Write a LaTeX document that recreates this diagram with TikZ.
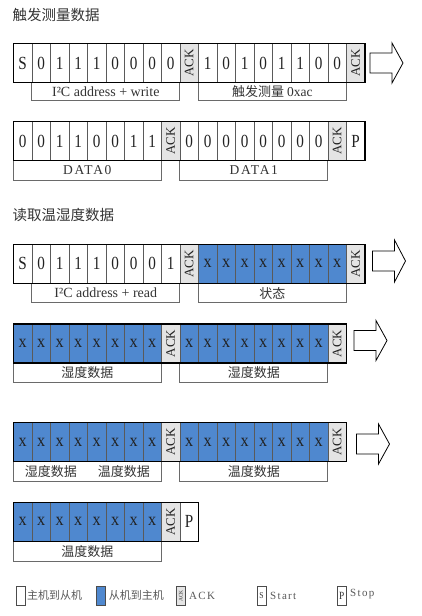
\documentclass[tikz,border=0pt]{standalone}
\usepackage{fontspec}
\usepackage{graphicx}
\setmainfont{Liberation Serif}
\newfontfamily\cjk{Noto Sans CJK SC}
\newfontfamily\spc[LetterSpace=12]{Liberation Serif}
\definecolor{bblue}{HTML}{4F88CF}
\definecolor{ackgray}{HTML}{E4E4E4}
\definecolor{sepgray}{HTML}{5A5A5A}
\definecolor{labgray}{HTML}{6A6A6A}
\definecolor{txt}{HTML}{222222}
\newcommand\fmtw[1]{\scalebox{0.82}[1]{#1}}
\newcommand\fmtb[1]{\scalebox{0.9}[1]{#1}}
\newcommand\fmta[1]{\rotatebox{90}{ACK}}
\tikzset{
  cell/.style={draw=sepgray, line width=0.6pt, minimum width=18.5pt, minimum height=39pt,
    inner sep=0pt, outer sep=0pt, anchor=north west, text=txt},
  cw/.style={cell, fill=white, font=\fontsize{18.5}{18.5}\selectfont},
  cb/.style={cell, fill=bblue, font=\fontsize{18}{18}\selectfont},
  ca/.style={cell, fill=ackgray, font=\fontsize{13}{13}\selectfont},
  frame/.style={draw=black, line width=1.5pt},
  labbox/.style={draw=labgray, line width=0.8pt, minimum width=148pt, inner sep=0pt,
    outer sep=0pt, anchor=north west, text=black!80, font=\fontsize{14}{14}\selectfont},
  cjklab/.style={font=\cjk\fontsize{13}{13}\selectfont},
  bigarrow/.style={draw=black, line width=0.8pt, fill=white, line join=miter},
  title/.style={anchor=west, inner sep=0pt, text=black!80, font=\cjk\fontsize{14.5}{14.5}\selectfont},
  legbox/.style={draw=black!70, line width=0.8pt, minimum width=9pt, minimum height=19pt,
    inner sep=0pt, anchor=north west, text=black!80},
  legtxt/.style={anchor=west, inner sep=0pt, text=black!65, font=\cjk\fontsize{11}{11}\selectfont},
  legen/.style={anchor=west, inner sep=0pt, text=black!65, font=\spc\fontsize{11}{11}\selectfont},
}
\begin{document}
\begin{tikzpicture}[x=1pt,y=-1pt]
\useasboundingbox[fill=white] (0,0) rectangle (422,616);

% ---------- titles
\node[title] (t1) at (12.5,15) {触发测量数据};
\node[title] (t2) at (12.5,215) {读取温湿度数据};

% ---------- row 1
\foreach \t/\v [count=\i from 0] in {w/S,w/0,w/1,w/1,w/1,w/0,w/0,w/0,w/0,a/A,w/1,w/0,w/1,w/0,w/1,w/1,w/0,w/0,a/A}
  \node[c\t] (r1c\i) at ({13.3+18.5*\i},43.5) {\csname fmt\t\endcsname{\v}};
\node[labbox, minimum height=17.5pt] (r1la) at (r1c1.south west) {I²C address + write};
\node[labbox, minimum height=17.5pt, cjklab] (r1lb) at (r1c10.south west) {触发测量 {\rmfamily\fontsize{13.5}{13.5}\selectfont 0xac}};
\draw[frame] (r1c0.north west) rectangle (r1c18.south east);
\coordinate (a1) at (370,63);
\draw[bigarrow] (a1) ++(0,-10) -- ++(22,0) -- ++(0,-10) -- ++(11,20) -- ++(-11,20) -- ++(0,-10) -- ++(-22,0) -- cycle;

% ---------- row 2
\foreach \t/\v [count=\i from 0] in {w/0,w/0,w/1,w/1,w/0,w/0,w/1,w/1,a/A,w/0,w/0,w/0,w/0,w/0,w/0,w/0,w/0,a/A,w/P}
  \node[c\t] (r2c\i) at ({13.3+18.5*\i},121.7) {\csname fmt\t\endcsname{\v}};
\node[labbox, minimum height=19.3pt, font=\spc\fontsize{13.5}{13.5}\selectfont] (r2la) at (r2c0.south west) {DATA0};
\node[labbox, minimum height=19.3pt, font=\spc\fontsize{13.5}{13.5}\selectfont] (r2lb) at (r2c9.south west) {DATA1};
\draw[frame] (r2c0.north west) rectangle (r2c18.south east);

% ---------- row 3
\foreach \t/\v [count=\i from 0] in {w/S,w/0,w/1,w/1,w/1,w/0,w/0,w/0,w/1,a/A,b/x,b/x,b/x,b/x,b/x,b/x,b/x,b/x,a/A}
  \node[c\t] (r3c\i) at ({13.3+18.5*\i},244.3) {\csname fmt\t\endcsname{\v}};
\node[labbox, minimum height=19.5pt] (r3la) at (r3c1.south west) {I²C address + read};
\node[labbox, minimum height=19.5pt, cjklab] (r3lb) at (r3c10.south west) {状态};
\draw[frame] (r3c0.north west) rectangle (r3c18.south east);
\coordinate (a3) at (372.5,261);
\draw[bigarrow] (a3) ++(0,-10) -- ++(22,0) -- ++(0,-11) -- ++(11,21) -- ++(-11,21) -- ++(0,-11) -- ++(-22,0) -- cycle;

% ---------- row 4
\foreach \t/\v [count=\i from 0] in {b/x,b/x,b/x,b/x,b/x,b/x,b/x,b/x,a/A,b/x,b/x,b/x,b/x,b/x,b/x,b/x,b/x,a/A}
  \node[c\t] (r4c\i) at ({13.3+18.5*\i},324) {\csname fmt\t\endcsname{\v}};
\node[labbox, minimum height=19.3pt, cjklab] (r4la) at (r4c0.south west) {湿度数据};
\node[labbox, minimum height=19.3pt, cjklab] (r4lb) at (r4c9.south west) {湿度数据};
\draw[frame] (r4c0.north west) rectangle (r4c17.south east);
\coordinate (a4) at (354,340.5);
\draw[bigarrow] (a4) ++(0,-10) -- ++(22,0) -- ++(0,-10) -- ++(11,20) -- ++(-11,20) -- ++(0,-10) -- ++(-22,0) -- cycle;

% ---------- row 5
\foreach \t/\v [count=\i from 0] in {b/x,b/x,b/x,b/x,b/x,b/x,b/x,b/x,a/A,b/x,b/x,b/x,b/x,b/x,b/x,b/x,b/x,a/A}
  \node[c\t] (r5c\i) at ({13.3+18.5*\i},422.7) {\csname fmt\t\endcsname{\v}};
\node[labbox, minimum height=19.8pt, cjklab] (r5la) at (r5c0.south west) {湿度数据\hspace{21pt}温度数据};
\node[labbox, minimum height=19.8pt, cjklab] (r5lb) at (r5c9.south west) {温度数据};
\draw[frame] (r5c0.north west) rectangle (r5c17.south east);
\coordinate (a5) at (356.5,444);
\draw[bigarrow] (a5) ++(0,-10) -- ++(22,0) -- ++(0,-10) -- ++(11,20) -- ++(-11,20) -- ++(0,-10) -- ++(-22,0) -- cycle;

% ---------- row 6
\foreach \t/\v [count=\i from 0] in {b/x,b/x,b/x,b/x,b/x,b/x,b/x,b/x,a/A,w/P}
  \node[c\t] (r6c\i) at ({13.3+18.5*\i},502.3) {\csname fmt\t\endcsname{\v}};
\node[labbox, minimum height=19.8pt, cjklab] (r6la) at (r6c0.south west) {温度数据};
\draw[frame] (r6c0.north west) rectangle (r6c9.south east);

% ---------- legend
\node[legbox, fill=white] (lg1) at (15.7,586) {};
\node[legtxt] (lt1) at (27,595.5) {主机到从机};
\node[legbox, fill=bblue] (lg2) at (96,586) {};
\node[legtxt] (lt2) at (108.7,595.5) {从机到主机};
\node[legbox, fill=ackgray] (lg3) at (176,586) {\rotatebox{90}{\fontsize{5.5}{5.5}\selectfont ACK}};
\node[legen] (lt3) at (189,595.5) {ACK};
\node[legbox, fill=white, font=\fontsize{9}{9}\selectfont] (lg4) at (256.7,586) {\scalebox{0.85}[1]{S}};
\node[legen] (lt4) at (270,595.5) {Start};
\node[legbox, fill=white, font=\fontsize{11}{11}\selectfont] (lg5) at (336.7,586) {\scalebox{0.85}[1]{P}};
\node[legen] (lt5) at (350,594.5) {Stop};
\end{tikzpicture}
\end{document}
